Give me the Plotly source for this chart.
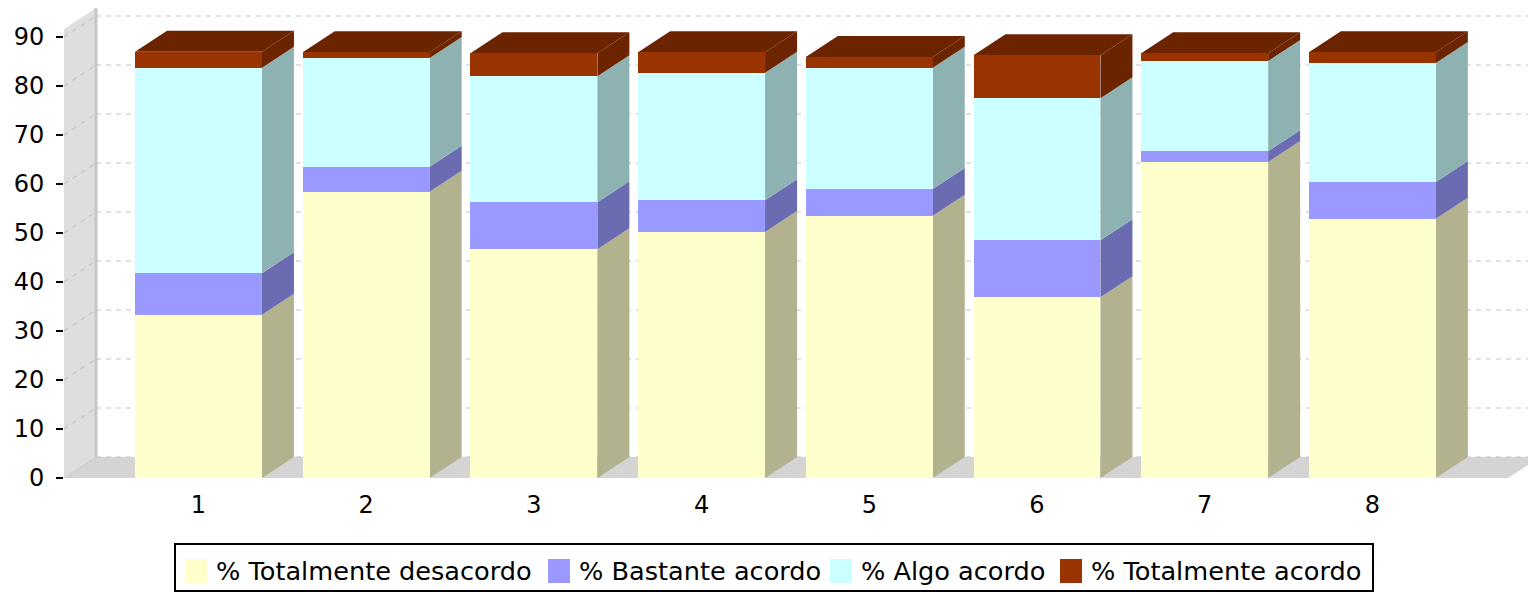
import plotly.graph_objects as go

# ---- data ----
categories = ["1", "2", "3", "4", "5", "6", "7", "8"]
series_names = ["% Totalmente desacordo", "% Bastante acordo", "% Algo acordo", "% Totalmente acordo"]
totalmente_desacordo = [33.3, 58.4, 46.7, 50.2, 53.5, 36.9, 64.5, 52.9]
bastante_acordo = [8.5, 5.1, 9.6, 6.5, 5.5, 11.6, 2.2, 7.5]
algo_acordo = [41.9, 22.2, 25.7, 26.0, 24.7, 29.0, 18.4, 24.3]
totalmente_acordo = [3.3, 1.2, 4.7, 4.2, 2.2, 8.8, 1.6, 2.2]
y_ticks = [0, 10, 20, 30, 40, 50, 60, 70, 80, 90]

series = [totalmente_desacordo, bastante_acordo, algo_acordo, totalmente_acordo]
front_colors = ["#FFFFCC", "#9999FF", "#CCFFFF", "#993300"]
side_colors = ["#B2B28E", "#6B6BB2", "#8EB2B2", "#6B2300"]

# ---- figure geometry ----
W, H = 1528, 592
ML, MR, MT, MB = 64, 0, 8, 114
PW, PH = W - ML - MR, H - MT - MB

xpos = list(range(1, len(categories) + 1))
bar_w = 0.757
dx = 0.1908      # depth offset in x data units
dy = 4.286       # depth offset in y data units
x_min, x_max = 0.198, 8.928
y_max = PH / 4.9
x_front_right = 8.809
xb = x_min + dx

shapes = []
annotations = []


def poly(pts, color):
    path = "M " + " L ".join(f"{x},{y}" for x, y in pts) + " Z"
    shapes.append(dict(type="path", path=path, xref="x", yref="y",
                       fillcolor=color, line=dict(width=0), layer="below"))


def line(x0, y0, x1, y1, color, width=1, dash="solid"):
    shapes.append(dict(type="line", x0=x0, y0=y0, x1=x1, y1=y1, xref="x", yref="y",
                       line=dict(color=color, width=width, dash=dash), layer="below"))


# left wall and floor
poly([(x_min, 0), (x_min, y_max - dy), (xb, y_max), (xb, dy)], "#DEDEDE")
poly([(x_min, 0), (x_front_right, 0), (x_front_right + dx, dy), (xb, dy)], "#D4D4D4")
line(xb, dy, xb, y_max, "#C6C6C6", 3)
line(x_min, 0, xb, dy, "#CBCBCB", 1)

# gridlines
for v in y_ticks:
    line(xb, v + dy, x_max, v + dy, "#C4C4C4", 1.2, "5px,5px")
    if v > 0:
        line(x_min, v, xb, v + dy, "#C4C4C4", 1.2, "5px,5px")

# side and top faces
for i, xc in enumerate(xpos):
    xl = xc - bar_w / 2
    xr = xc + bar_w / 2
    base = 0.0
    for s, vals in enumerate(series):
        top = base + vals[i]
        poly([(xr, base), (xr, top), (xr + dx, top + dy), (xr + dx, base + dy)], side_colors[s])
        base = top
    poly([(xl, base), (xr, base), (xr + dx, base + dy), (xl + dx, base + dy)], side_colors[-1])


# ---- legend (drawn in pixel layout converted to paper coords) ----
def px_x(p):
    return (p - ML) / PW


def px_y(p):
    return (H - MB - p) / PH


shapes.append(dict(type="rect", xref="paper", yref="paper",
                   x0=px_x(175), x1=px_x(1373), y0=px_y(591), y1=px_y(544),
                   line=dict(color="black", width=2), fillcolor="white", layer="above"))
legend_text_x = [217, 580, 862, 1092]
for s, name in enumerate(series_names):
    tx = legend_text_x[s]
    shapes.append(dict(type="rect", xref="paper", yref="paper",
                       x0=px_x(tx - 32), x1=px_x(tx - 10), y0=px_y(583), y1=px_y(559),
                       line=dict(width=0), fillcolor=front_colors[s], layer="above"))
    annotations.append(dict(text=name, xref="paper", yref="paper", x=px_x(tx - 3), y=px_y(571),
                            xanchor="left", yanchor="middle", showarrow=False,
                            font=dict(size=25.6, color="black", family="DejaVu Sans")))

fig = go.Figure()
for s, vals in enumerate(series):
    fig.add_trace(go.Bar(x=xpos, y=vals, width=bar_w, name=series_names[s],
                         marker=dict(color=front_colors[s], line=dict(width=0))))

fig.update_layout(
    width=W, height=H,
    margin=dict(l=ML, r=MR, t=MT, b=MB, autoexpand=False),
    barmode="stack",
    plot_bgcolor="white", paper_bgcolor="white",
    font=dict(family="DejaVu Sans", size=24, color="black"),
    shapes=shapes,
    annotations=annotations,
    showlegend=False,
)
fig.update_xaxes(range=[x_min, x_max], tickvals=xpos, ticktext=categories,
                 showgrid=False, zeroline=False, showline=False, ticks="",
                 ticklabelstandoff=10, automargin=False)
fig.update_yaxes(range=[0, y_max], tickvals=y_ticks, showgrid=False, zeroline=False,
                 showline=False, ticks="outside", ticklen=7, tickwidth=2, tickcolor="black",
                 ticklabelstandoff=7, automargin=False)

fig.write_html("out.html", config={"displayModeBar": False},
               post_script="document.body.style.margin='0';document.body.style.overflow='hidden';")
